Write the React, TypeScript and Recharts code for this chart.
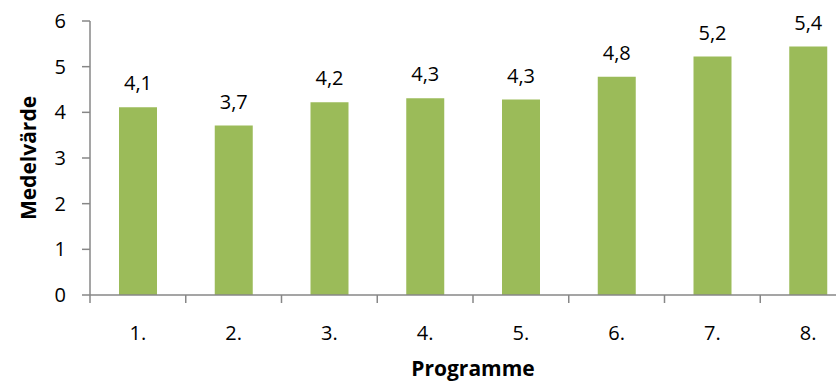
import React from 'react';
import { BarChart, Bar, XAxis, YAxis, LabelList, Label } from 'recharts';

const categories = ['1.', '2.', '3.', '4.', '5.', '6.', '7.', '8.'];
const means = [4.11, 3.71, 4.22, 4.31, 4.28, 4.78, 5.22, 5.44];
const yTicks = [0, 1, 2, 3, 4, 5, 6];

const data = categories.map((c, i) => ({ name: c, value: means[i] }));

const FONT = '"Open Sans", "Liberation Sans", sans-serif';
const CHART_W = 860;
const CHART_H = 382;
const MARGIN = { top: 21, right: 4, bottom: 0, left: 0 };
const Y_AXIS_W = 90;
const X_AXIS_H = 87;
const PLOT_W = CHART_W - MARGIN.left - MARGIN.right - Y_AXIS_W;
const BAND = PLOT_W / categories.length;
const X_TICK_SIZE = 8;
const X_TICK_MARGIN = 20;
const AXIS_COLOR = '#878787';
const NUM_SIZE = 20;
const TITLE_SIZE = 21;

const XTick = (props: any) => {
  const { x, y, payload } = props;
  const axisY = y - X_TICK_SIZE - X_TICK_MARGIN;
  const bx = x - BAND / 2;
  return (
    <g>
      <line x1={bx} x2={bx} y1={axisY} y2={axisY + X_TICK_SIZE} stroke={AXIS_COLOR} strokeWidth={1.5} />
      <text x={x} y={y} textAnchor="middle" dominantBaseline="hanging" fontSize={NUM_SIZE} fill="#000" fontFamily={FONT}>
        {payload.value}
      </text>
    </g>
  );
};

export default function App() {
  return (
    <div style={{ position: 'absolute', left: 0, top: 0, width: 836, height: 382, overflow: 'hidden', background: '#fff' }}>
      <BarChart width={CHART_W} height={CHART_H} data={data} margin={MARGIN}>
        <XAxis
          dataKey="name"
          height={X_AXIS_H}
          tickLine={false}
          tickSize={X_TICK_SIZE}
          tickMargin={X_TICK_MARGIN}
          tick={<XTick />}
          axisLine={{ stroke: AXIS_COLOR, strokeWidth: 1.5 }}
          interval={0}
        >
          <Label
            value="Programme"
            position="insideBottom"
            offset={6}
            style={{ fontFamily: FONT, fontSize: TITLE_SIZE, fontWeight: 'bold', fill: '#000' }}
          />
        </XAxis>
        <YAxis
          width={Y_AXIS_W}
          domain={[0, 6]}
          ticks={yTicks}
          tickSize={8}
          tickMargin={16}
          tickLine={{ stroke: AXIS_COLOR, strokeWidth: 1.5 }}
          axisLine={{ stroke: AXIS_COLOR, strokeWidth: 1.5 }}
          tick={{ fontSize: NUM_SIZE, fill: '#000', fontFamily: FONT }}
        >
          <Label
            value="Medelvärde"
            angle={-90}
            position="center"
            dx={-16}
            style={{ fontFamily: FONT, fontSize: TITLE_SIZE, fontWeight: 'bold', fill: '#000', textAnchor: 'middle' }}
          />
        </YAxis>
        <Bar dataKey="value" fill="#9BBB59" barSize={38} isAnimationActive={false}>
          <LabelList
            dataKey="value"
            position="top"
            offset={17}
            formatter={(v: any) => Number(v).toFixed(1).replace('.', ',')}
            style={{ fontFamily: FONT, fontSize: NUM_SIZE, fill: '#000' }}
          />
        </Bar>
      </BarChart>
    </div>
  );
}
